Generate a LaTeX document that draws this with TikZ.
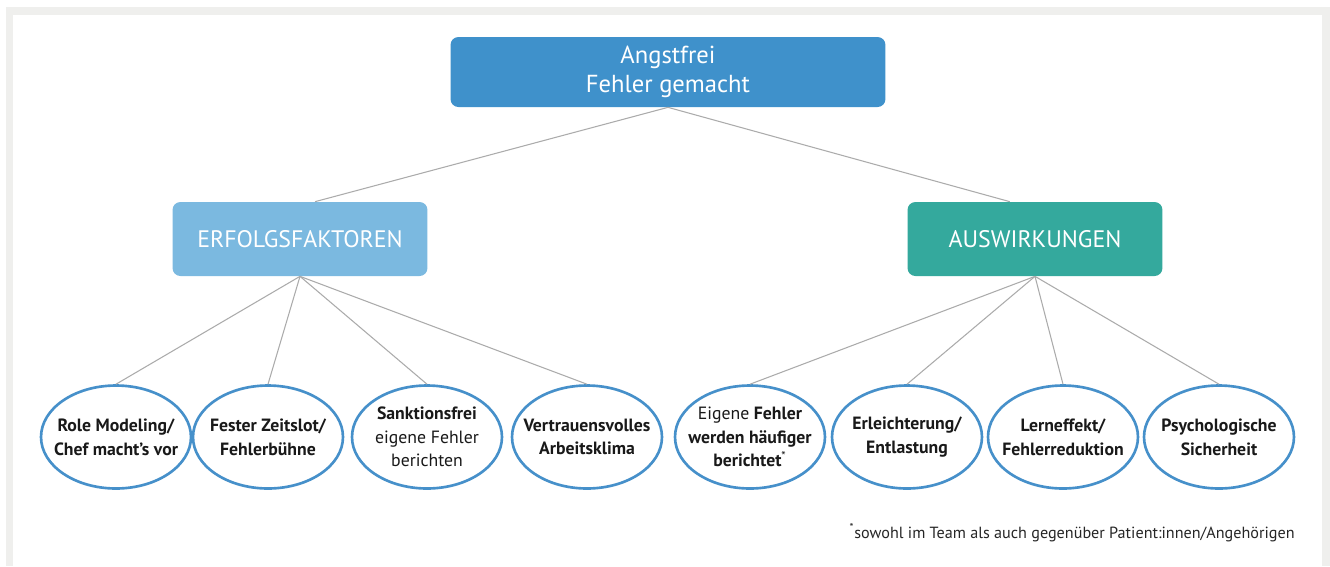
\documentclass[tikz,border=0pt]{standalone}
\usepackage{fontspec}
\setmainfont{PT Sans}
\usetikzlibrary{shapes,positioning}

\definecolor{topblue}{HTML}{3F91CB}
\definecolor{lightblue}{HTML}{7BB9E0}
\definecolor{teal}{HTML}{34A99D}
\definecolor{ellblue}{HTML}{4690CA}
\definecolor{linegray}{HTML}{ABABAB}
\definecolor{framegray}{HTML}{EFEFED}

\begin{document}
\begin{tikzpicture}[
    x=0.02cm, y=-0.02cm,
    header/.style={rectangle, rounded corners=4.5pt, text=white, align=center, inner sep=0pt},
    bubble/.style={ellipse, draw=ellblue, line width=1.5pt, fill=white, minimum width=3.0cm, minimum height=2.06cm, inner sep=0pt},
    bubble_text/.style={align=center, inner sep=0pt, text=black!90, font=\fontsize{10.1}{13.5}\selectfont\bfseries},
    link/.style={draw=linegray, line width=0.6pt},
    note_text/.style={font=\fontsize{9.2}{11}\selectfont, text=black!85, inner sep=0pt}
]

% --- frame ---
\useasboundingbox (0,0) rectangle (1330,566);
\fill[framegray] (6,7) rectangle (1330,566);
\fill[white] (13,15) rectangle (1322,566);

% --- top and second level ---
\node[header, fill=topblue, minimum width=8.7cm, minimum height=1.4cm, font=\fontsize{14}{16.5}\selectfont] (top) at (668,72) {Angstfrei\\Fehler gemacht};

\node[header, fill=lightblue, minimum width=5.1cm, minimum height=1.48cm, font=\fontsize{13.6}{15}\selectfont] (faktoren) at (300,239) {ERFOLGSFAKTOREN};
\node[header, fill=teal, minimum width=5.1cm, minimum height=1.48cm, font=\fontsize{13.6}{15}\selectfont] (wirkung) at (1035,239) {AUSWIRKUNGEN};

% --- Erfolgsfaktoren ---
\node[bubble] (F1) at (116,437) {};
\node[bubble] (F2) at (268,437) {};
\node[bubble] (F3) at (427,437) {};
\node[bubble] (F4) at (587,437) {};
\node[bubble_text] at (F1) {Role Modeling/\\Chef macht’s vor};
\node[bubble_text] at (F2) {Fester Zeitslot/\\Fehlerbühne};
\node[bubble_text] at (F3) {Sanktionsfrei\\\mdseries eigene Fehler\\\mdseries berichten};
\node[bubble_text] at (F4) {Vertrauensvolles\\Arbeitsklima};

% --- Auswirkungen ---
\node[bubble] (W1) at (750,437) {};
\node[bubble] (W2) at (907,437) {};
\node[bubble] (W3) at (1063,437) {};
\node[bubble] (W4) at (1219,437) {};
\node[bubble_text] at (W1) {{\mdseries Eigene} Fehler\\werden häufiger\\berichtet\textsuperscript{\mdseries*}};
\node[bubble_text] at (W2) {Erleichterung/\\Entlastung};
\node[bubble_text] at (W3) {Lerneffekt/\\Fehlerreduktion};
\node[bubble_text] at (W4) {Psychologische\\Sicherheit};

% --- connections ---
\draw[link] (top.south) -- (faktoren.68);
\draw[link] (top.south) -- (wirkung.124);
\foreach \i in {1,...,4} {
    \draw[link] (faktoren.south) -- (F\i.north);
    \draw[link] (wirkung.south) -- (W\i.north);
}

% footnote
\node[note_text, anchor=base east] (note) at (1295,538) {\textsuperscript{*}sowohl im Team als auch gegenüber Patient:innen/Angehörigen};

\end{tikzpicture}
\end{document}
